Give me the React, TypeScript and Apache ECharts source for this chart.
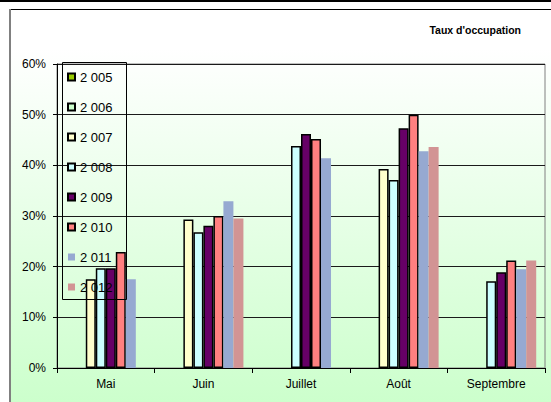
import React, { useEffect, useRef } from "react";
import * as echarts from "echarts";

const months = ["Mai", "Juin", "Juillet", "Août", "Septembre"];
const years = ["2 005", "2 006", "2 007", "2 008", "2 009", "2 010", "2 011", "2 012"];
const colors = ["#99cc00", "#ccffcc", "#ffffcc", "#ccffff", "#660066", "#ff8080", "#96a9d1", "#d29494"];
const bordered = [true, true, true, true, true, true, false, false];

const v2005: (number | null)[] = [null, null, null, null, null];
const v2006: (number | null)[] = [null, null, null, null, null];
const v2007: (number | null)[] = [17.5, 29.3, null, 39.3, null];
const v2008: (number | null)[] = [19.7, 26.8, 43.8, 37.1, 17.1];
const v2009: (number | null)[] = [19.7, 28.1, 46.2, 47.3, 18.9];
const v2010: (number | null)[] = [22.9, 30.0, 45.2, 50.0, 21.2];
const v2011: (number | null)[] = [17.5, 32.9, 41.4, 42.8, 19.5];
const v2012: (number | null)[] = [null, 29.5, null, 43.6, 21.2];
const allValues = [v2005, v2006, v2007, v2008, v2009, v2010, v2011, v2012];

const FONT = "'Liberation Sans', Arial, sans-serif";

export default function App() {
  const ref = useRef<HTMLDivElement>(null);
  useEffect(() => {
    document.body.style.margin = "0";
    if (!ref.current) return;
    const chart = echarts.init(ref.current, null, { renderer: "svg" });
    chart.setOption({
      animation: false,
      backgroundColor: "transparent",
      textStyle: { fontFamily: FONT },
      title: {
        text: "Taux d'occupation",
        right: 25,
        top: 19,
        textStyle: { fontSize: 10.5, fontWeight: "bold", color: "#000", fontFamily: FONT },
      },
      grid: {
        left: 57,
        right: 6,
        top: 64,
        bottom: 34,
        show: true,
        borderColor: "#808080",
        borderWidth: 1,
        backgroundColor: "transparent",
      },
      legend: {
        orient: "vertical",
        left: 67,
        top: 70,
        itemWidth: 7,
        itemHeight: 7,
        itemGap: 16,
        padding: 0,
        z: 100,
        icon: "rect",
        textStyle: { fontSize: 13, color: "#000", lineHeight: 14, fontFamily: FONT },
        data: years,
      },
      xAxis: {
        type: "category",
        data: months,
        axisLine: { lineStyle: { color: "#000", width: 1 } },
        axisTick: { show: true, length: 5, lineStyle: { color: "#000" } },
        axisLabel: { fontSize: 12, color: "#000", margin: 10, fontFamily: FONT },
      },
      yAxis: {
        type: "value",
        min: 0,
        max: 60,
        interval: 10,
        axisLine: { show: true, lineStyle: { color: "#000", width: 1 } },
        axisTick: { show: true, length: 4, lineStyle: { color: "#000" } },
        axisLabel: { formatter: "{value}%", fontSize: 12, color: "#000", margin: 11, fontFamily: FONT },
        splitLine: { show: true, lineStyle: { color: "#1a1a1a", width: 1 } },
      },
      graphic: [
        {
          type: "rect",
          z: 100,
          shape: { x: 62.5, y: 62.5, width: 64, height: 237 },
          style: { fill: "none", stroke: "#000", lineWidth: 1 },
        },
      ],
      series: years.map((y, i) => ({
        name: y,
        type: "bar",
        data: allValues[i],
        barGap: "0%",
        barCategoryGap: "18%",
        itemStyle: {
          color: colors[i],
          borderColor: bordered[i] ? "#000" : colors[i],
          borderWidth: bordered[i] ? 1.5 : 0,
        },
      })),
    });
    return () => chart.dispose();
  }, []);

  return (
    <div style={{ position: "relative", width: 551, height: 402, background: "#fff", overflow: "hidden" }}>
      <div style={{ position: "absolute", left: 0, top: 0, width: 551, height: 2, background: "#000" }} />
      <div
        style={{
          position: "absolute",
          left: 10,
          top: 10,
          width: 541,
          height: 392,
          background: "linear-gradient(to bottom, #ffffff 0%, #ffffff 10%, #ccffcc 100%)",
        }}
      />
      <div style={{ position: "absolute", left: 9, top: 9, width: 542, height: 1, background: "#000" }} />
      <div style={{ position: "absolute", left: 9, top: 9, width: 2, height: 393, background: "#808080" }} />
      <div ref={ref} style={{ position: "absolute", left: 0, top: 0, width: 551, height: 402 }} />
    </div>
  );
}
